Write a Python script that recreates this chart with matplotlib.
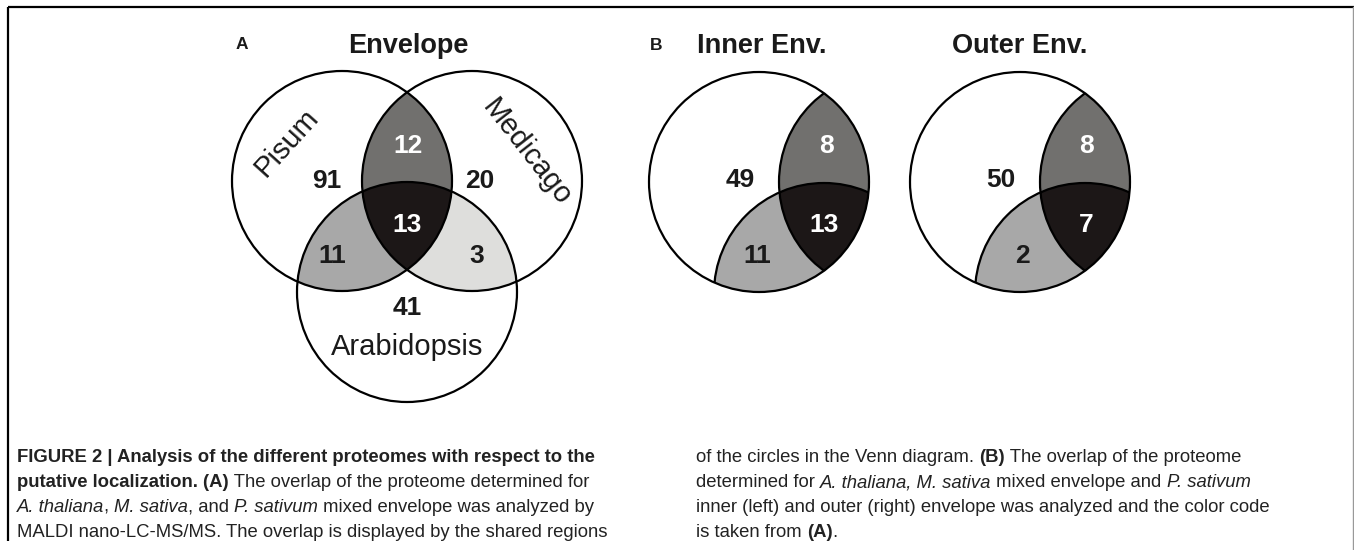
import numpy as np
import matplotlib
matplotlib.use("Agg")
import matplotlib.pyplot as plt
from matplotlib.patches import Circle, Polygon

# ── Data ──────────────────────────────────────────────────
set_names = ["Pisum", "Medicago", "Arabidopsis"]
panel_titles = ["Envelope", "Inner Env.", "Outer Env."]

env_regions = ["P", "M", "A", "PM", "PA", "MA", "PMA"]
env_counts = [91, 20, 41, 12, 11, 3, 13]

b_regions = ["P", "PM", "PA", "PMA"]
inner_counts = [49, 8, 11, 13]
outer_counts = [50, 8, 2, 7]

caption_left = [
    [("FIGURE 2 | Analysis of the different proteomes with respect to the", "b")],
    [("putative localization. (A)", "b"), (" The overlap of the proteome determined for", "r")],
    [("A. thaliana", "i"), (", ", "r"), ("M. sativa", "i"), (", and ", "r"),
     ("P. sativum", "i"), (" mixed envelope was analyzed by", "r")],
    [("MALDI nano-LC-MS/MS. The overlap is displayed by the shared regions", "r")],
]
caption_right = [
    [("of the circles in the Venn diagram. ", "r"), ("(B)", "b"), (" The overlap of the proteome", "r")],
    [("determined for ", "r"), ("A. thaliana, M. sativa", "i"), (" mixed envelope and ", "r"),
     ("P. sativum", "i")],
    [("inner (left) and outer (right) envelope was analyzed and the color code", "r")],
    [("is taken from ", "r"), ("(A)", "b"), (".", "r")],
]

# ── Style / layout ────────────────────────────────────────
TXT = "#1a1a1a"
FILL = {"P": "white", "M": "white", "A": "white", "PM": "#71706e",
        "PA": "#a8a8a8", "MA": "#dededc", "PMA": "#1c1717"}
WHITE_LABEL = {"PM", "PMA"}
R = 110
OFF_M = np.array([130, 0])
OFF_A = np.array([65, 111])
FONT = ["Liberation Sans", "DejaVu Sans"]

# label position of each region, relative to the Pisum centre
pos_a = {"P": (-15, -3), "M": (138, -3), "A": (65, 124), "PM": (66, -38),
         "PA": (-10, 72), "MA": (135, 72), "PMA": (65, 41)}
pos_inner = {"P": (-19, -5), "PM": (67, -39), "PA": (-2, 71), "PMA": (65, 40)}
pos_outer = {"P": (-19, -5), "PM": (67, -39), "PA": (2, 71), "PMA": (66, 40)}

fig = plt.figure(figsize=(13.54, 5.5), dpi=100)
ax = fig.add_axes([0, 0, 1, 1])
ax.set_xlim(0, 1354)
ax.set_ylim(550, 0)
ax.axis("off")


def lens(c1, c2, r, n=300):
    d = np.hypot(*(c2 - c1))
    half = np.arccos(d / (2 * r))
    pts = []
    for a, b in ((c1, c2), (c2, c1)):
        ang0 = np.arctan2(b[1] - a[1], b[0] - a[0])
        th = np.linspace(ang0 - half, ang0 + half, n)
        pts.append(np.column_stack([a[0] + r * np.cos(th), a[1] + r * np.sin(th)]))
    return np.vstack(pts)


def clipped(patch, centre):
    ax.add_patch(patch)
    patch.set_clip_path(Circle(centre, R, transform=ax.transData))


def venn(origin, regions, counts, pos, full):
    cP = np.array(origin, float)
    cM, cA = cP + OFF_M, cP + OFF_A
    base = [cP, cM, cA] if full else [cP]
    for c in base:
        ax.add_patch(Circle(c, R, fc="white", ec="none", zorder=1))
    clipped(Circle(cM, R, fc=FILL["PM"], ec="none", zorder=2), cP)
    clipped(Circle(cA, R, fc=FILL["PA"], ec="none", zorder=2), cP)
    if full:
        clipped(Circle(cA, R, fc=FILL["MA"], ec="none", zorder=2), cM)
    clipped(Polygon(lens(cP, cM, R), closed=True, fc=FILL["PMA"], ec="none", zorder=3), cA)
    # outlines
    ax.add_patch(Circle(cP, R, fc="none", ec="black", lw=1.6, zorder=5))
    for c in (cM, cA):
        if full:
            ax.add_patch(Circle(c, R, fc="none", ec="black", lw=1.6, zorder=5))
        else:
            clipped(Circle(c, R, fc="none", ec="black", lw=1.6, zorder=5), cP)
    for reg, n in zip(regions, counts):
        dx, dy = pos[reg]
        col = "white" if reg in WHITE_LABEL else TXT
        ax.text(cP[0] + dx, cP[1] + dy + 10, str(n), ha="center", va="baseline",
                fontsize=19, fontweight="bold", color=col, family=FONT, zorder=6)


venn((342, 181), env_regions, env_counts, pos_a, True)
venn((759, 182), b_regions, inner_counts, pos_inner, False)
venn((1020, 182), b_regions, outer_counts, pos_outer, False)

# set names in panel A
ax.text(287, 143, set_names[0], rotation=48, ha="center", va="center",
        rotation_mode="anchor", fontsize=21, color=TXT, family=FONT, zorder=6)
ax.text(527, 152, set_names[1], rotation=-52, ha="center", va="center",
        rotation_mode="anchor", fontsize=21, color=TXT, family=FONT, zorder=6)
ax.text(407, 355, set_names[2], ha="center", va="baseline",
        fontsize=21, color=TXT, family=FONT, zorder=6)

# titles and panel letters
for x, t in zip((408, 762, 1020), panel_titles):
    ax.text(x, 53, t, ha="center", va="baseline", fontsize=19.5,
            fontweight="bold", color=TXT, family=FONT)
ax.text(236, 49, "A", ha="left", va="baseline", fontsize=12.5, fontweight="bold",
        color=TXT, family=FONT)
ax.text(650, 50, "B", ha="left", va="baseline", fontsize=12.5, fontweight="bold",
        color=TXT, family=FONT)

# frame
ax.plot([8, 1354], [7, 7], color="black", lw=1.6, solid_capstyle="butt")
ax.plot([8, 8], [7, 541], color="black", lw=1.6, solid_capstyle="butt")
ax.plot([1353, 1353], [7, 550], color="#999999", lw=1)

# ── Caption ───────────────────────────────────────────────
rend = fig.canvas.get_renderer()
CAP_SIZE = 13.3


def run_width(s, kw):
    t1 = ax.text(0, 0, "|" + s + "|", **kw)
    t0 = ax.text(0, 0, "||", **kw)
    w = t1.get_window_extent(rend).width - t0.get_window_extent(rend).width
    t1.remove()
    t0.remove()
    return w


def draw_runs(x, y, runs):
    for s, style in runs:
        kw = dict(fontsize=CAP_SIZE, family=FONT, color="#222222")
        if style == "b":
            kw["fontweight"] = "bold"
        if style == "i":
            kw["fontstyle"] = "italic"
        ax.text(x, y, s, ha="left", va="baseline", **kw)
        x += run_width(s, kw)


for i, runs in enumerate(caption_left):
    draw_runs(17, 462 + 25 * i, runs)
for i, runs in enumerate(caption_right):
    draw_runs(696, 462 + 25 * i, runs)

fig.savefig("out.png", dpi=100)
